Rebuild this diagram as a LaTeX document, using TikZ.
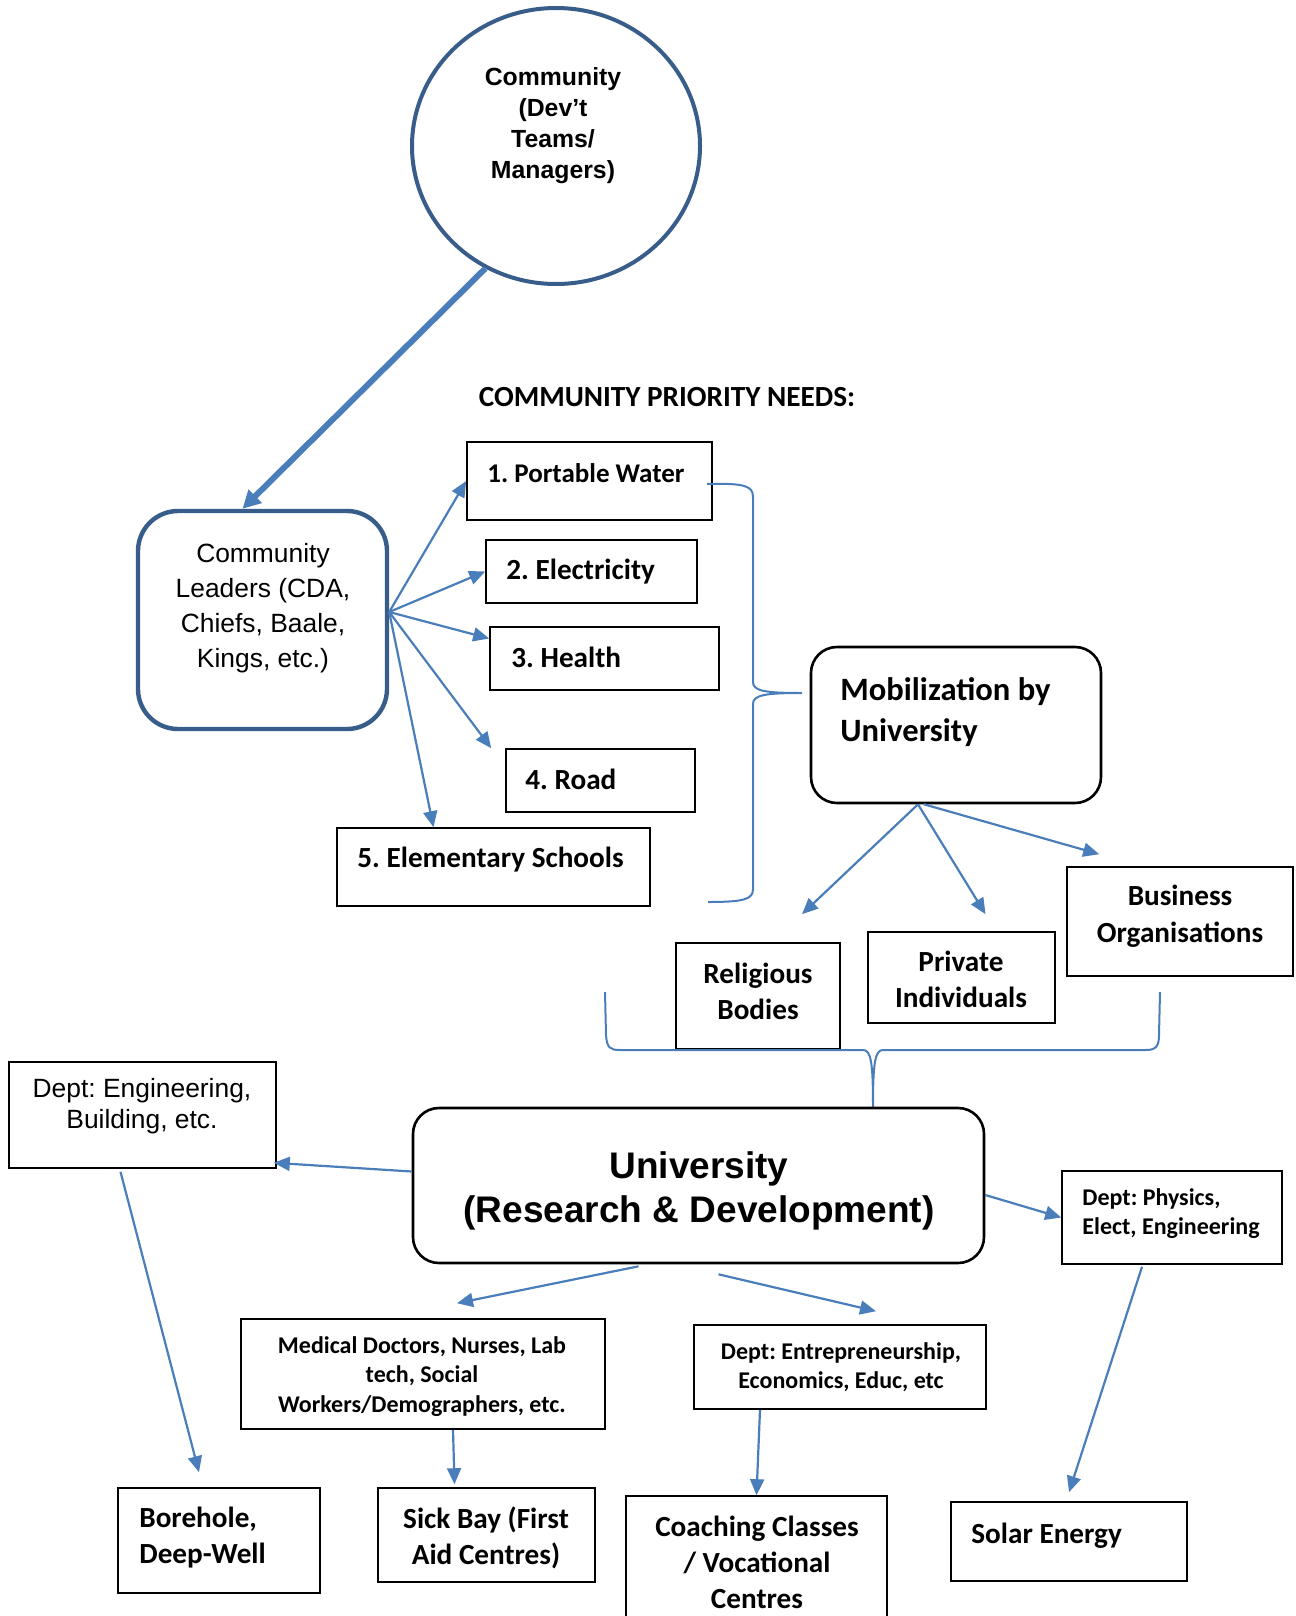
\documentclass[tikz,border=0pt]{standalone}
\usepackage{fontspec}
\setmainfont{Carlito}
\newfontfamily\arialfont{Liberation Sans}
\usetikzlibrary{positioning, fit, shapes.geometric, arrows.meta}
\definecolor{linkblue}{RGB}{74,126,187}
\definecolor{edgeblue}{RGB}{56,93,138}
\frenchspacing

\begin{document}
\begin{tikzpicture}[x=0.5pt, y=-0.5pt,
    box/.style={draw, line width=0.8pt, inner sep=0pt},
    rbox/.style={draw, line width=1.3pt, rounded corners=13pt, inner sep=0pt},
    lbl/.style={inner sep=0pt, align=center, font=\bfseries\fontsize{14.6}{18}\selectfont},
    small/.style={inner sep=0pt, align=center, font=\bfseries\fontsize{12}{14.6}\selectfont},
    plain/.style={inner sep=0pt, align=center, font=\arialfont\fontsize{13.2}{15.5}\selectfont},
    arr/.style={draw=linkblue, line width=1.1pt, -{Triangle[length=8pt,width=7pt]}},
    bigarr/.style={draw=linkblue, line width=3pt, -{Triangle[length=9pt,width=9pt]}},
    brace/.style={draw=linkblue, line width=1pt}]

	\useasboundingbox (0,0) rectangle (1295,1616);
	\clip (0,0) rectangle (1295,1616);

	\node[draw=edgeblue, line width=2pt, ellipse, minimum width=144pt, minimum height=138pt] (comm) at (556,146) {};
	\node[inner sep=0pt, align=center, font=\arialfont\bfseries\fontsize{12.4}{15.5}\selectfont] (commtxt) at (553,126) {Community\\(Dev’t\\Teams/\\Managers)};

	\node[draw=edgeblue, line width=2.2pt, rounded corners=20pt, inner sep=0pt, fit={(138,511) (387,729)}] (leaders) {};
	\node[plain, font=\arialfont\fontsize{13.2}{17.5}\selectfont] (leaderstxt) at (263,608) {Community\\Leaders (CDA,\\Chiefs, Baale,\\Kings, etc.)};
	\draw[bigarr] (comm.240) -- ([xshift=-10pt]leaders.north);

	\node[lbl] (needs) at (667,397) {COMMUNITY PRIORITY NEEDS:};

	\node[box, fit={(467,442) (712,520)}] (water) {};
	\node[lbl, anchor=west, font=\bfseries\fontsize{13.5}{16}\selectfont] (waterlbl) at (487,473) {1. Portable Water};
	\node[box, fit={(486,540) (697,603)}] (elec) {};
	\node[lbl, anchor=west] (eleclbl) at (506,572) {2. Electricity};
	\node[box, fit={(490,627) (719,690)}] (health) {};
	\node[lbl, anchor=west] (healthlbl) at (511,657) {3. Health};
	\node[box, fit={(506,749) (695,812)}] (road) {};
	\node[lbl, anchor=west] (roadlbl) at (525,779) {4. Road};
	\node[box, fit={(337,828) (650,906)}] (school) {};
	\node[lbl, anchor=west] (schoollbl) at (357,860) {5. Elementary Schools};

	\coordinate (fan) at ([yshift=4pt]leaders.east);
	\draw[arr] (fan) -- (water.west);
	\draw[arr] (fan) -- (elec.west);
	\draw[arr] (fan) -- ([yshift=10pt]health.west);
	\draw[arr] (fan) -- ([xshift=-7pt]road.north west);
	\draw[arr] (fan) -- ([xshift=-30pt]school.north);

	\draw[brace] (707,484) .. controls (745,483) and (753,486) .. (753,497) -- (753,682)
	    .. controls (753,691) and (765,693) .. (802,693)
	    .. controls (765,693) and (753,695) .. (753,704) -- (753,889)
	    .. controls (753,899) and (745,902) .. (708,902);

	\node[rbox, fit={(811,647) (1101,803)}] (mob) {};
	\node[lbl, anchor=west, align=left, font=\bfseries\fontsize{16.3}{20.5}\selectfont] (moblbl) at (840,712.5) {Mobilization by\\University};

	\node[box, fit={(676,943) (840,1049)}] (relig) {};
	\node[lbl] (religlbl) at (758,991) {Religious\\Bodies};
	\node[box, fit={(868,932) (1055,1023)}] (priv) {};
	\node[lbl] (privlbl) at (961,979) {Private\\Individuals};
	\node[box, fit={(1067,867) (1293,976)}] (bus) {};
	\node[lbl, font=\bfseries\fontsize{14.6}{18.5}\selectfont] (buslbl) at (1180,916.5) {Business\\Organisations};

	\coordinate (mobfoot) at ([xshift=-19pt]mob.south);
	\draw[arr] (mobfoot) -- ([shift={(22pt,14pt)}]relig.north);
	\draw[arr] (mobfoot) -- ([shift={(12pt,8.5pt)}]priv.north);
	\draw[arr] ([xshift=3pt]mobfoot) -- ([shift={(16.5pt,6pt)}]bus.north west);

	\draw[brace] (605,992) -- (606,1035) .. controls (607,1048) and (610,1050) .. (620,1050) -- (863,1050)
	    .. controls (871,1050) and (873,1062) .. (873,1108)
	    .. controls (873,1062) and (875,1050) .. (883,1050) -- (1146,1050)
	    .. controls (1156,1050) and (1159,1046) .. (1159,1035) -- (1160,992);

	\node[rbox, fit={(413,1108) (984,1263)}] (univ) {};
	\node[inner sep=0pt, align=center, font=\arialfont\bfseries\fontsize{18.5}{22}\selectfont] (univlbl) at (699,1191) {University\\(Research \& Development)};

	\node[box, fit={(9,1062) (276,1168)}] (eng) {};
	\node[plain] (englbl) at (142,1106.5) {Dept: Engineering,\\Building, etc.};
	\node[box, fit={(241,1319) (605,1429)}] (med) {};
	\node[small, font=\bfseries\fontsize{12}{14.75}\selectfont] (medlbl) at (422,1376.5) {Medical Doctors, Nurses, Lab\\tech, Social\\Workers/Demographers, etc.};
	\node[box, fit={(694,1325) (986,1409)}] (ent) {};
	\node[small] (entlbl) at (841,1367.5) {Dept: Entrepreneurship,\\Economics, Educ, etc};
	\node[box, fit={(1062,1171) (1282,1264)}] (phys) {};
	\node[small, anchor=west, align=left] (physlbl) at (1082,1213.5) {Dept: Physics,\\Elect, Engineering};

	\node[box, fit={(118,1488) (320,1593)}] (bore) {};
	\node[lbl, anchor=west, align=left] (borelbl) at (139,1538) {Borehole,\\Deep-Well};
	\node[box, fit={(378,1488) (595,1582)}] (sick) {};
	\node[lbl] (sicklbl) at (486,1538) {Sick Bay (First\\Aid Centres)};
	\node[box, fit={(626,1496) (887,1640)}] (coach) {};
	\node[lbl] (coachlbl) at (757,1562) {Coaching Classes\\/ Vocational\\Centres};
	\node[box, fit={(951,1502) (1187,1581)}] (solar) {};
	\node[lbl, anchor=west] (solarlbl) at (971,1536) {Solar Energy};

	\draw[arr] ([yshift=7pt]univ.west) -- ([shift={(-1.5pt,3pt)}]eng.south east);
	\draw[arr] ([shift={(-11pt,-1.5pt)}]eng.south) -- ([shift={(-10pt,7.5pt)}]bore.north);
	\draw[arr] ([shift={(-30pt,-1pt)}]univ.south) -- ([shift={(17pt,7.5pt)}]med.north);
	\draw[arr] ([shift={(10pt,-5pt)}]univ.south) -- ([shift={(18pt,6.5pt)}]ent.north);
	\draw[arr] ([xshift=15pt]med.south) -- ([shift={(-16pt,1.5pt)}]sick.north);
	\draw[arr] ([xshift=-40pt]ent.south) -- (coach.north);
	\draw[arr] ([yshift=-4.75pt]univ.east) -- (phys.west);
	\draw[arr] ([shift={(-15pt,-1pt)}]phys.south) -- ([yshift=4.5pt]solar.north);
\end{tikzpicture}
\end{document}
